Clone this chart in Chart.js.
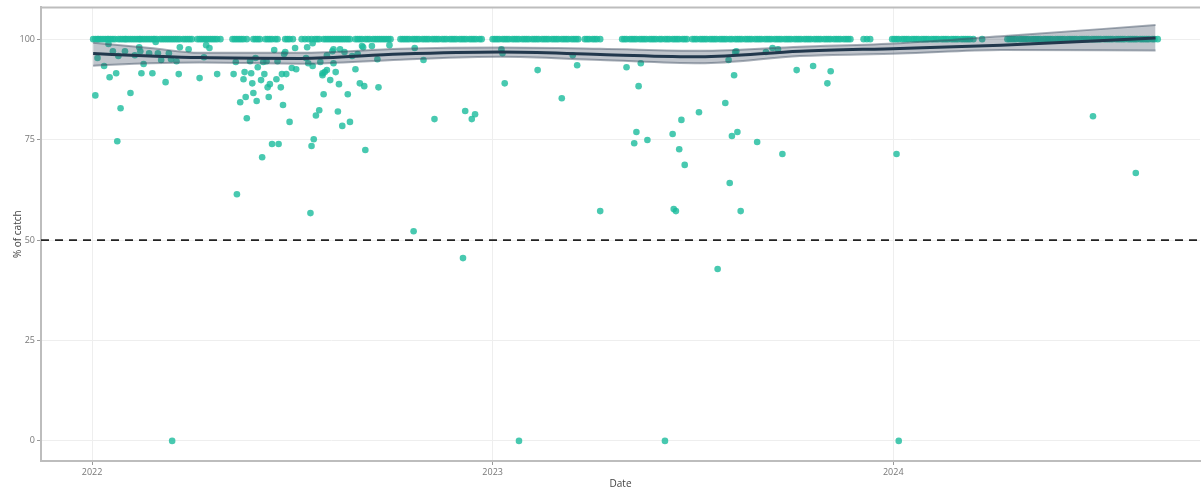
<!DOCTYPE html>
<html>
<head>
<meta charset="utf-8">
<script src="https://cdn.jsdelivr.net/npm/chart.js@4/dist/chart.umd.min.js"></script>
<style>
  html, body { margin: 0; padding: 0; background: #fff; overflow: hidden; }
</style>
</head>
<body>
<canvas id="grafico" width="1204" height="490"></canvas>
<script>
// days counted from 2022-01-01
const yearTicks = [0, 365, 730];
const yearLabels = ['2022', '2023', '2024'];
const yTicks = [0, 25, 50, 75, 100];

// trips where the whole catch was kept (100 %)
const fullDays = [1,3,5,6,8,10,12,14,15,17,19,21,
  24,26,28,30,31,33,35,37,39,41,43,44,46,48,50,52,54,56,57,59,
  62,64,66,68,70,72,74,76,78,80,83,85,87,89,91,
  96,98,100,102,104,106,108,110,112,114,117,
  128,130,132,134,136,138,141,147,149,151,153,158,160,162,164,167,169,
  176,178,180,183,191,194,197,200,203,205,207,211,213,215,217,219,
  221,223,225,227,229,231,233,235,240,242,244,246,
  249,251,253,256,258,260,262,264,266,268,270,272,
  281,283,285,287,289,292,294,296,298,301,303,305,307,310,312,314,316,319,321,323,326,328,330,332,335,337,339,341,344,346,348,350,353,355,
  365,367,369,371,374,376,378,380,383,385,387,389,392,394,396,398,401,403,405,407,410,412,414,416,419,421,423,425,428,430,432,434,437,439,441,443,
  449,451,453,456,458,460,463,
  483,485,487,490,492,494,496,499,501,503,505,508,510,512,514,517,519,
  522,524,526,529,531,533,535,538,540,542,
  547,549,551,554,556,558,560,563,565,567,569,572,574,576,578,581,583,586,
  588,590,592,595,597,599,601,604,606,608,610,613,615,617,619,622,624,626,628,631,633,635,637,640,642,644,646,649,651,653,655,658,660,662,664,667,669,671,673,676,678,680,682,685,687,689,691,
  703,706,709,
  729,731,733,735,738,740,742,744,747,749,751,753,756,758,760,762,765,767,769,771,774,776,778,780,783,785,787,789,792,794,796,798,800,803,811,
  834,836,838,840,842,845,847,849,851,853,856,858,860,862,864,867,869,871,873,875,878,880,882,884,886,889,891,893,895,897,
  900,902,904,906,908,911,913,915,917,919,922,924,926,928,930,933,935,937,939,941,944,946,948,950,952,955,957,959,961,963,966,968,971];

// trips with partial catch
const partDays = [3,5,11,15,16,19,22,23,24,26,30,35,39,43,44,45,47,52,55,58,60,63,67,70,72,73,77,79,80,88,
  98,102,104,107,114,129,131,132,135,138,139,140,141,144,145,146,147,149,150,151,154,155,156,157,159,160,161,162,164,
  166,168,169,170,172,173,174,175,176,177,180,182,185,186,195,196,197,199,200,201,201,202,204,207,208,210,210,211,212,214,214,
  217,219,220,220,222,224,225,226,228,230,233,235,237,240,242,244,246,247,248,249,255,260,261,271,
  293,294,302,312,338,340,346,349,373,374,376,389,406,428,438,442,463,
  487,494,496,498,500,506,522,529,530,532,535,537,540,553,570,577,580,581,583,585,586,587,588,591,
  606,614,620,625,629,642,657,670,673,733,735,912,951];
const partPct = [86,95.3,93.3,98.8,90.5,97,91.5,74.6,95.8,82.8,97,86.6,96,98,97,91.5,93.8,96.5,91.5,99.3,96.5,94.8,89.3,96.5,95,0,94.5,91.3,98,97.5,
  90.3,95.5,98.5,97.8,91.3,91.3,94.3,61.4,84.3,90,91.8,85.6,80.3,94.5,91.5,89,86.6,95.3,84.6,93,89.8,70.6,94.3,91.3,94.5,88,85.6,88.8,73.9,
  97.3,90,94.5,73.9,88,91.3,83.6,96.3,96.8,91.3,79.4,92.8,97.8,92.5,95.3,98,94,56.7,73.4,93.3,99,75.1,81,82.3,94.3,91.5,91,86.3,91.8,92.3,96,
  89.8,97,94,97.5,91.8,82,88.8,97.5,78.4,96.8,86.3,79.4,95.8,92.5,96.3,89,98.3,98,88.3,72.4,98.3,95,88,98.5,
  52.2,97.8,94.8,80.1,45.5,82.1,80.1,81.3,97.5,96.5,89,0,92.3,85.3,96,93.5,57.2,
  93,74.1,76.9,88.3,94,74.9,0,76.4,57.7,57.2,72.6,79.9,68.7,81.8,42.8,84.1,94.8,64.2,75.9,91,96.8,97,76.9,57.2,
  74.4,96.8,97.8,97.5,71.4,92.3,93.3,89,92,71.4,0,80.8,66.7];

// smoothed trend with its confidence band
const smoothDays = [1, 53, 98, 190, 281, 372, 463, 554, 645, 736, 828, 969];
const smoothMid = [96.4, 95.8, 95.4, 95.2, 96.3, 96.8, 96.2, 95.6, 97.0, 97.7, 98.5, 100.3];
const smoothHi = [99.1, 97.8, 96.6, 96.6, 97.6, 97.9, 97.6, 97.1, 98.1, 99.0, 100.7, 103.5];
const smoothLo = [93.4, 94.0, 94.2, 93.9, 94.9, 95.6, 94.8, 94.0, 95.8, 96.4, 97.3, 97.2];

const threshold = 50;

const pts = [];
fullDays.forEach(d => pts.push({ x: d, y: 100 }));
partDays.forEach((d, i) => pts.push({ x: d, y: partPct[i] }));

const toXY = (ys) => smoothDays.map((d, i) => ({ x: d, y: ys[i] }));

const topBorder = {
  id: 'topBorder',
  afterDraw(chart) {
    const { ctx, chartArea } = chart;
    ctx.save();
    ctx.strokeStyle = '#bdbdbd';
    ctx.lineWidth = 2;
    ctx.beginPath();
    ctx.moveTo(chartArea.left, chartArea.top);
    ctx.lineTo(chartArea.right, chartArea.top);
    ctx.stroke();
    ctx.restore();
  }
};

const ctx = document.getElementById('grafico');

new Chart(ctx, {
  type: 'scatter',
  data: {
    datasets: [
      {
        label: 'trend',
        type: 'line',
        data: toXY(smoothMid),
        borderColor: '#22384d',
        borderWidth: 3,
        pointRadius: 0,
        cubicInterpolationMode: 'monotone',
        fill: false,
        order: 1
      },
      {
        label: 'hi',
        type: 'line',
        data: toXY(smoothHi),
        borderColor: 'rgba(60,75,95,0.45)',
        borderWidth: 2,
        backgroundColor: 'rgba(60,75,95,0.32)',
        pointRadius: 0,
        cubicInterpolationMode: 'monotone',
        fill: '+1',
        order: 2
      },
      {
        label: 'lo',
        type: 'line',
        data: toXY(smoothLo),
        borderColor: 'rgba(60,75,95,0.45)',
        borderWidth: 2,
        pointRadius: 0,
        cubicInterpolationMode: 'monotone',
        fill: false,
        order: 2
      },
      {
        label: 'limit',
        type: 'line',
        data: [{ x: -46.5, y: threshold }, { x: 1009.5, y: threshold }],
        borderColor: '#222',
        borderWidth: 1.7,
        borderDash: [8, 6],
        pointRadius: 0,
        fill: false,
        order: 4
      },
      {
        label: 'catch',
        data: pts,
        backgroundColor: 'rgba(26,188,156,0.8)',
        borderWidth: 0,
        pointRadius: 3.3,
        order: 3
      }
    ]
  },
  options: {
    responsive: false,
    animation: false,
    layout: { padding: { top: 3, right: 0, left: 0, bottom: 0 } },
    plugins: {
      legend: { display: false },
      tooltip: { enabled: false }
    },
    scales: {
      x: {
        type: 'linear',
        min: -46.5,
        max: 1009.5,
        afterBuildTicks: (s) => { s.ticks = yearTicks.map(v => ({ value: v })); },
        afterFit: (s) => { s.height = 29; },
        ticks: {
          color: '#777',
          font: { family: 'Open Sans', size: 9 },
          padding: 2,
          maxRotation: 0,
          callback: (v) => yearLabels[yearTicks.indexOf(v)] || ''
        },
        grid: { color: '#eeeeee', lineWidth: 1, tickLength: 4, tickColor: '#999' },
        border: { color: '#bdbdbd', width: 2 },
        title: {
          display: true,
          text: 'Date',
          color: '#444',
          font: { family: 'Open Sans', size: 10 },
          padding: { top: 0, bottom: 0 }
        }
      },
      y: {
        min: -5,
        max: 107.9,
        afterBuildTicks: (s) => { s.ticks = yTicks.map(v => ({ value: v })); },
        afterFit: (s) => { s.width = 41; },
        ticks: {
          color: '#777',
          font: { family: 'Open Sans', size: 9 },
          padding: 2
        },
        grid: { color: '#eeeeee', lineWidth: 1, tickLength: 4, tickColor: '#999' },
        border: { color: '#bdbdbd', width: 2 },
        title: {
          display: true,
          text: '% of catch',
          color: '#444',
          font: { family: 'Open Sans', size: 10 },
          padding: { top: 12, bottom: 0 }
        }
      }
    }
  },
  plugins: [topBorder]
});
</script>
</body>
</html>
